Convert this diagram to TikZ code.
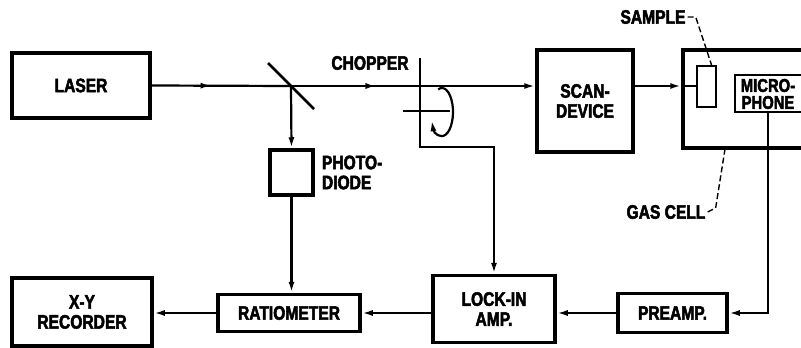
\documentclass[tikz,border=0pt]{standalone}
\usepackage{fontspec}
\setmainfont[FakeStretch=0.8,BoldFeatures={FakeBold=2.5}]{Liberation Sans}
\usetikzlibrary{arrows.meta,positioning,calc,decorations.markings}

\begin{document}
\begin{tikzpicture}[
  x=1pt,y=-1pt,
  every node/.style={font=\bfseries\fontsize{19.5}{20}\selectfont,inner sep=2pt},
  box/.style={draw,line width=3.5pt,align=center,inner sep=0pt},
  thinbox/.style={draw,line width=2.2pt,align=center,inner sep=0pt},
  label/.style={align=left,inner sep=2pt},
  wire/.style={line width=2.2pt},
  tip/.style={-{Latex[length=11pt,width=6pt]}},
  midtip/.style={postaction={decorate},decoration={markings,
      mark=at position #1 with {\arrow{Latex[length=11pt,width=6pt]}}}},
  lead/.style={line width=1.4pt,dash pattern=on 6pt off 3pt}
]
\clip (0,0) rectangle (801,348);
% upper row
\node[box,minimum width=138pt,minimum height=65pt] (laser) at (81,85.5) {LASER};
\coordinate (mirror) at (291,86);
\draw[line width=2.6pt] (mirror) ++(-23,-23) -- ++(46,46);
\node[box,minimum width=43pt,minimum height=45pt] (photo) at (291.5,172.5) {};
\node[label,right=5pt of photo] (photolbl) {PHOTO-\\DIODE};
\coordinate (chtop) at (420,58);
\coordinate (chbot) at (420,147);
\coordinate (stubL) at (403,111);
\coordinate (stubR) at (450,111);
\coordinate (rot) at (442,112);
\node (choplbl) at (370,63) {CHOPPER};
\node[box,minimum width=96pt,minimum height=102pt] (scan) at (585,101) {SCAN-\\DEVICE};
\node[box,minimum width=160pt,minimum height=98pt] (gas) at (763,99) {};
\node[thinbox,minimum width=19pt,minimum height=41pt] (sample) at (706.5,86.5) {};
\node[thinbox,minimum width=80pt,minimum height=37pt] (micro) at (775,93.5) {};
\node[align=center,inner sep=0pt,font=\bfseries\fontsize{18.5}{17}\selectfont]
  (microtxt) at (768,94) {MICRO-\\PHONE};
\node (samplelbl) at (653,17) {SAMPLE};
\node (gaslbl) at (666,212) {GAS CELL};
\coordinate (gasfoot) at (725,149);
\coordinate (micdrop) at (768,112);
% lower row
\node[box,minimum width=140pt,minimum height=68pt] (rec) at (82,312) {X-Y\\RECORDER};
\node[box,minimum width=142pt,minimum height=37pt] (ratio) at (289,313) {RATIOMETER};
\node[box,minimum width=122pt,minimum height=67pt] (lockin) at (494,309) {LOCK-IN\\AMP.};
\node[box,minimum width=109pt,minimum height=39pt] (preamp) at (672.5,313) {PREAMP.};

% beam
\draw[wire,midtip=0.43] (laser.east) -- (mirror);
\draw[wire,tip,midtip=0.35] (mirror) -- (mirror -| scan.west);
\draw[wire,tip] (mirror -| scan.east) -- (mirror -| gas.west);
\draw[wire] (mirror -| gas.west) -- (mirror -| sample.west);
\draw[wire,tip] (mirror) -- (photo.north);
% chopper
\draw[wire,tip] (chtop) -- (chbot) -| (lockin.north);
\draw[wire] (stubL) -- (stubR);
\draw[wire,tip] (rot) ++(-110:11 and 24) arc[start angle=-110,end angle=160,x radius=11,y radius=24];
% signals
\draw[wire,tip] (photo.south) -- (photo.south |- ratio.north);
\draw[wire,tip] (micdrop) |- (preamp.east);
\draw[wire,tip] (preamp.west) -- (preamp.west -| lockin.east);
\draw[wire,tip] (lockin.west |- ratio.east) -- (ratio.east);
\draw[wire,tip] (ratio.west) -- (ratio.west -| rec.east);
% leaders
\draw[lead] (samplelbl.east) -- ++(8,0) -- ($(sample.north)+(5,0)$);
\draw[lead] (gaslbl.east) -- ++(8,-4) -- (gasfoot);
\end{tikzpicture}
\end{document}
